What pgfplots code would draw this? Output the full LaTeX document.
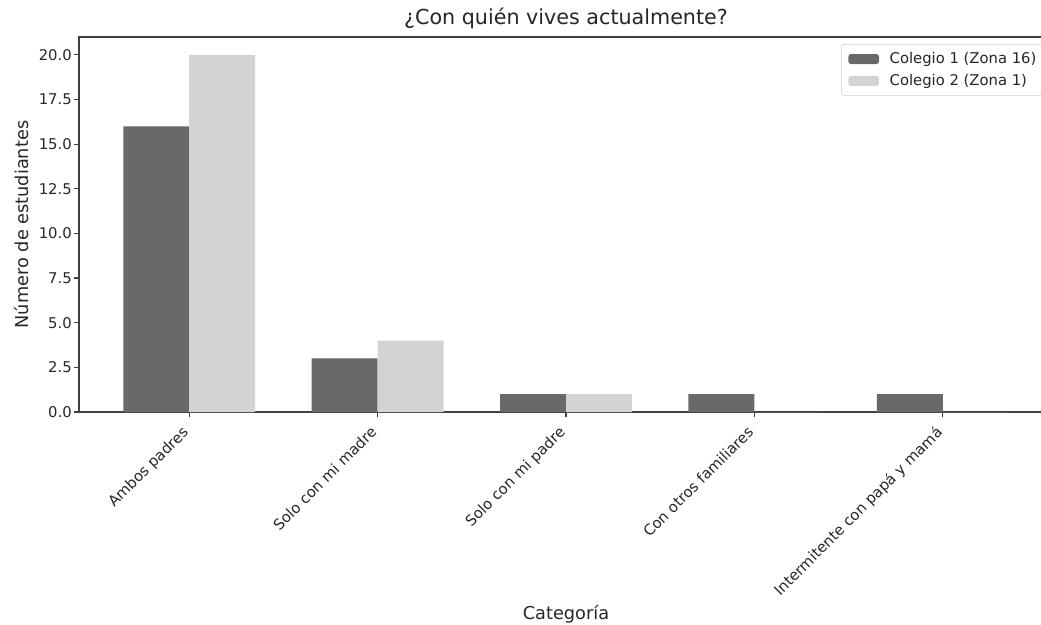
\documentclass[border=0pt]{standalone}
\usepackage{fontspec}
\setmainfont{DejaVu Sans}
\usepackage{pgfplots}
\pgfplotsset{compat=1.18}
\definecolor{cdark}{HTML}{696969}
\definecolor{clight}{HTML}{D3D3D3}
\definecolor{ctext}{HTML}{262626}
\begin{document}
\begin{tikzpicture}
\begin{axis}[
  at={(0,0)}, anchor=south west,
  scale only axis, width=730.5pt, height=281.25pt,
  xmin=-0.585, xmax=4.585, ymin=0, ymax=21,
  axis line style={black!75, line width=0.9pt},
  tick style={black!75, line width=0.9pt},
  tick align=outside, tick pos=left,
  major tick length=3.9pt,
  xtick={0,1,2,3,4},
  xticklabels={Ambos padres, Solo con mi madre, Solo con mi padre, Con otros familiares, Intermitente con papá y mamá},
  x tick label style={xshift=-6pt, yshift=-1pt, rotate=45, anchor=north east, font=\fontsize{11.1}{13}\selectfont, text=ctext},
  ytick={0,2.5,5,7.5,10,12.5,15,17.5,20},
  y tick label style={xshift=2pt, font=\fontsize{11.1}{13}\selectfont, text=ctext},
  scaled y ticks=false,
  /pgf/number format/.cd, fixed, fixed zerofill, precision=1, assume math mode=true,
  /pgfplots/.cd,
  title={¿Con quién vives actualmente?},
  title style={at={(axis description cs:0.5,1)}, anchor=base, yshift=3pt, font=\fontsize{15.5}{18}\selectfont, text=ctext},
  xlabel={Categoría},
  xlabel style={at={(axis description cs:0.5,0)}, anchor=base, yshift=-155.25pt, font=\fontsize{13.3}{16}\selectfont, text=ctext},
  ylabel={Número de estudiantes},
  ylabel style={at={(axis description cs:0,0.5)}, anchor=center, yshift=42.75pt, font=\fontsize{13.3}{16}\selectfont, text=ctext},
  legend style={at={(0.9928,0.981)}, anchor=north east, draw=black!20, rounded corners=2pt, fill=white,
    font=\fontsize{11.1}{13}\selectfont, text=ctext, row sep=2.5pt, column sep=6pt, inner xsep=5pt, inner ysep=4pt},
  legend cell align=left,
]
\addplot[ybar, bar width=0.35, bar shift=-0.175, fill=cdark, draw=none,
  legend image code/.code={\fill[cdark] (0pt,-3.75pt) rectangle (23pt,3.75pt);}]
  coordinates {(0,16) (1,3) (2,1) (3,1) (4,1)};
\addlegendentry{Colegio 1 (Zona 16)}
\addplot[ybar, bar width=0.35, bar shift=0.175, fill=clight, draw=none,
  legend image code/.code={\fill[clight] (0pt,-3.75pt) rectangle (23pt,3.75pt);}]
  coordinates {(0,20) (1,4) (2,1) (3,0) (4,0)};
\addlegendentry{Colegio 2 (Zona 1)}
\end{axis}
\pgfresetboundingbox
\useasboundingbox (-59.25pt,-159pt) rectangle (721.5pt,309pt);
\end{tikzpicture}
\end{document}
